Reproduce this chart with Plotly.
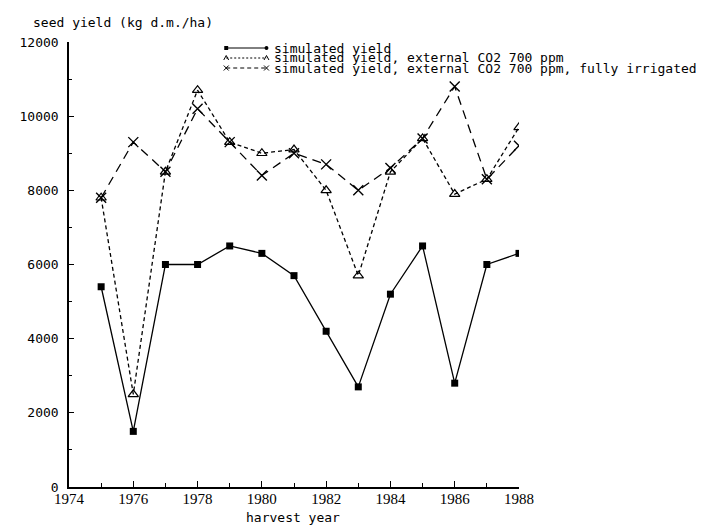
import plotly.graph_objects as go

years = [1975, 1976, 1977, 1978, 1979, 1980, 1981, 1982, 1983, 1984, 1985, 1986, 1987, 1988]
sim_yield = [5400, 1500, 6000, 6000, 6500, 6300, 5700, 4200, 2700, 5200, 6500, 2800, 6000, 6300]
co2_yield = [7800, 2500, 8500, 10700, 9300, 9000, 9100, 8000, 5700, 8500, 9400, 7900, 8300, 9700]
co2_irr_yield = [7800, 9300, 8500, 10200, 9300, 8400, 9000, 8700, 8000, 8600, 9400, 10800, 8300, 9200]
legend_labels = ["simulated yield",
                 "simulated yield, external CO2 700 ppm",
                 "simulated yield, external CO2 700 ppm, fully irrigated"]
y_title = "seed yield (kg d.m./ha)"
x_title = "harvest year"

W, H = 709, 526
OFF = 8  # page body margin offset of the figure
L, R, T, B = 61, 519, 42, 487  # plot area in page pixels
pw, ph = R - L, B - T


def px(x):
    return (x - L) / pw


def py(y):
    return (B - y) / ph


MONO = "DejaVu Sans Mono"
fig = go.Figure()
fig.add_trace(go.Scatter(x=years, y=sim_yield, mode="lines+markers",
                         line=dict(color="black", width=1.3),
                         marker=dict(symbol="square", size=7, color="black"),
                         showlegend=False))
fig.add_trace(go.Scatter(x=years, y=co2_yield, mode="lines+markers",
                         line=dict(color="black", width=1.3, dash="4px,3px"),
                         marker=dict(symbol="triangle-up-open", size=9, color="black",
                                     line=dict(width=1.2, color="black")),
                         showlegend=False))
fig.add_trace(go.Scatter(x=years, y=co2_irr_yield, mode="lines+markers",
                         line=dict(color="black", width=1.3, dash="9px,6px"),
                         marker=dict(symbol="x-thin-open", size=10, color="black",
                                     line=dict(width=1.4, color="black")),
                         showlegend=False))

shapes = []
annotations = []
rows = [48, 58, 68]
x0s, x1s, xt = 221, 262, 268
dashes = ["solid", "2px,2px", "4px,3px"]
for i, (ry, lab) in enumerate(zip(rows, legend_labels)):
    shapes.append(dict(type="line", xref="paper", yref="paper",
                       x0=px(x0s), x1=px(x1s), y0=py(ry), y1=py(ry),
                       line=dict(color="black", width=1, dash=dashes[i])))
    for xm in (x0s, x1s):
        if i == 0:
            kind = "rect" if xm == x0s else "circle"
            shapes.append(dict(type=kind, xref="paper", yref="paper",
                               x0=px(xm - 2), x1=px(xm + 2), y0=py(ry - 2), y1=py(ry + 2),
                               fillcolor="black", line=dict(width=0)))
        elif i == 1:
            shapes.append(dict(type="path", xref="paper", yref="paper",
                               path=f"M {px(xm-2.5)} {py(ry+2)} L {px(xm)} {py(ry-2.5)} L {px(xm+2.5)} {py(ry+2)}",
                               line=dict(color="black", width=1)))
        else:
            shapes.append(dict(type="line", xref="paper", yref="paper",
                               x0=px(xm - 2.5), x1=px(xm + 2.5), y0=py(ry - 2.5), y1=py(ry + 2.5),
                               line=dict(color="black", width=1)))
            shapes.append(dict(type="line", xref="paper", yref="paper",
                               x0=px(xm - 2.5), x1=px(xm + 2.5), y0=py(ry + 2.5), y1=py(ry - 2.5),
                               line=dict(color="black", width=1)))
    annotations.append(dict(text=lab, xref="paper", yref="paper", x=px(xt), y=py(ry),
                            xanchor="left", yanchor="middle", showarrow=False,
                            font=dict(family=MONO, size=13, color="black")))

annotations.append(dict(text=y_title, xref="paper", yref="paper", x=px(22), y=py(23),
                        xanchor="left", yanchor="middle", showarrow=False,
                        font=dict(family=MONO, size=13, color="black")))
annotations.append(dict(text=x_title, xref="paper", yref="paper", x=px(289), y=py(517),
                        xanchor="center", yanchor="middle", showarrow=False,
                        font=dict(family=MONO, size=13, color="black")))

fig.update_layout(
    width=W, height=H, autosize=False,
    margin=dict(l=L - OFF, r=W - (R - OFF), t=T - OFF, b=H - (B - OFF), pad=0),
    paper_bgcolor="white", plot_bgcolor="white",
    shapes=shapes, annotations=annotations,
    xaxis=dict(range=[1974, 1988], dtick=2, tick0=1974, tickformat="d",
               showline=True, linecolor="black", linewidth=1.5, showgrid=False, zeroline=False,
               ticks="inside", ticklen=6, tickwidth=1.2, tickcolor="black",
               minor=dict(dtick=1, ticks="inside", ticklen=4, tickwidth=1, tickcolor="black"),
               ticklabelstandoff=-3,
               tickfont=dict(family="Liberation Serif", size=15, color="black")),
    yaxis=dict(range=[0, 12000], dtick=2000, tickformat="d",
               showline=True, linecolor="black", linewidth=1.5, showgrid=False, zeroline=False,
               ticks="inside", ticklen=5, tickwidth=1.2, tickcolor="black",
               minor=dict(dtick=1000, ticks="inside", ticklen=3, tickwidth=1, tickcolor="black"),
               ticklabelstandoff=6,
               tickfont=dict(family=MONO, size=13, color="black")),
)
fig.write_html("out.html")
